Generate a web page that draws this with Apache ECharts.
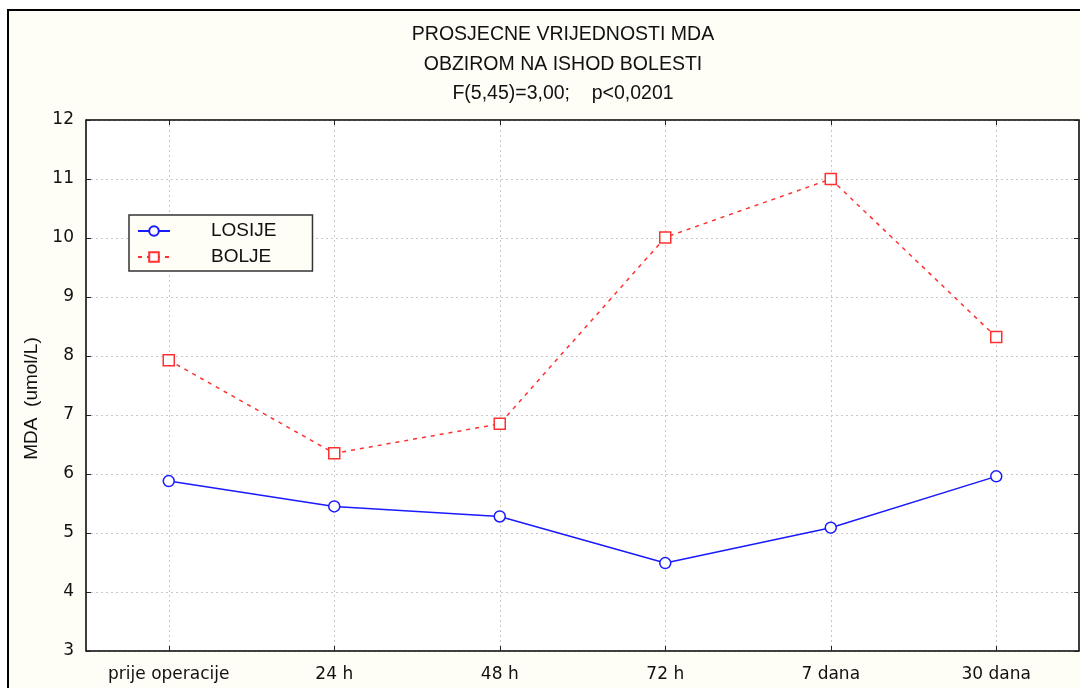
<!DOCTYPE html>
<html>
<head>
<meta charset="utf-8">
<script src="https://cdn.jsdelivr.net/npm/echarts@6/dist/echarts.min.js"></script>
<style>
  html, body { margin: 0; padding: 0; background: #ffffff; }
  #chart { width: 1080px; height: 688px; }
</style>
</head>
<body>
<div id="chart"></div>
<script>
// Measurement points
const categories = ['prije operacije', '24 h', '48 h', '72 h', '7 dana', '30 dana'];
// Mean MDA values per outcome group
const losije = [5.88, 5.45, 5.28, 4.49, 5.09, 5.96];
const bolje = [7.93, 6.35, 6.85, 10.01, 11.0, 8.32];
const seriesNames = ['LOSIJE', 'BOLJE'];
const titleLines = ['PROSJECNE VRIJEDNOSTI MDA', 'OBZIROM NA ISHOD BOLESTI', 'F(5,45)=3,00;    p<0,0201'];
const yName = 'MDA  (umol/L)';

const chart = echarts.init(document.getElementById('chart'), null, { renderer: 'canvas' });

const sans = 'Liberation Sans, Arial, sans-serif';
const wide = 'DejaVu Sans, Verdana, sans-serif';
const tickStyle = { show: true, inside: true, length: 5, lineStyle: { color: '#222', width: 1 } };
const gridLine = { show: true, lineStyle: { color: '#c8c8c8', type: [2, 3], width: 1 } };

function titleText(i, y) {
  return {
    type: 'text', z: 5,
    style: { x: 563, y: y, text: titleLines[i], font: '19.5px ' + sans, fill: '#111',
             align: 'center', verticalAlign: 'middle' }
  };
}

chart.setOption({
  animation: false,
  backgroundColor: '#ffffff',
  textStyle: { fontFamily: sans },
  graphic: [
    // page frame with cream fill
    { type: 'rect', z: -10, shape: { x: 8, y: 10, width: 1100, height: 700 },
      style: { fill: '#fffef6', stroke: '#000', lineWidth: 2 } },
    titleText(0, 35),
    titleText(1, 65),
    titleText(2, 94)
  ],
  grid: {
    left: 86, right: 1, top: 120, bottom: 37,
    show: true, backgroundColor: '#ffffff', borderColor: '#222', borderWidth: 1
  },
  legend: {
    data: seriesNames,
    orient: 'vertical',
    left: 129, top: 215,
    backgroundColor: '#fffef6',
    borderColor: '#333', borderWidth: 1.5, borderRadius: 0,
    padding: [5, 36, 3, 8],
    itemWidth: 32, itemHeight: 12, itemGap: 4,
    textStyle: { fontSize: 19, lineHeight: 22, color: '#111', fontFamily: sans, padding: [0, 0, 0, 36] }
  },
  xAxis: [
    {
      type: 'category', data: categories, position: 'bottom', boundaryGap: true,
      axisLine: { show: true, lineStyle: { color: '#222', width: 1.5 } },
      axisTick: Object.assign({ alignWithLabel: true }, tickStyle),
      axisLabel: { color: '#111', fontSize: 17, margin: 15, fontFamily: wide },
      splitLine: Object.assign({ alignWithLabel: true }, gridLine)
    },
    {
      type: 'category', data: categories, position: 'top', boundaryGap: true,
      axisLine: { show: true, lineStyle: { color: '#222', width: 1.5 } },
      axisTick: Object.assign({ alignWithLabel: true }, tickStyle),
      axisLabel: { show: false },
      splitLine: { show: false }
    }
  ],
  yAxis: [
    {
      type: 'value', min: 3, max: 12, interval: 1, position: 'left',
      name: yName, nameLocation: 'middle', nameGap: 44, nameRotate: 90,
      nameTextStyle: { fontSize: 19, color: '#111', fontFamily: sans, padding: [0, 26, 0, 0] },
      axisLine: { show: true, lineStyle: { color: '#222', width: 1.5 } },
      axisTick: tickStyle,
      axisLabel: { color: '#111', fontSize: 17, margin: 12, fontFamily: wide },
      splitLine: gridLine
    },
    {
      type: 'value', min: 3, max: 12, interval: 1, position: 'right',
      axisLine: { show: true, lineStyle: { color: '#222', width: 1.5 } },
      axisTick: tickStyle,
      axisLabel: { show: false },
      splitLine: { show: false }
    }
  ],
  series: [
    {
      name: seriesNames[0], type: 'line', data: losije,
      symbol: 'circle', symbolSize: 11, showAllSymbol: true,
      lineStyle: { color: '#1a1aff', width: 1.5 },
      itemStyle: { color: '#ffffff', borderColor: '#1a1aff', borderWidth: 1.5 },
      z: 3
    },
    {
      name: seriesNames[1], type: 'line', data: bolje,
      symbol: 'rect', symbolSize: 11, showAllSymbol: true,
      lineStyle: { color: '#ff3030', width: 1.5, type: [4, 5] },
      itemStyle: { color: '#ffffff', borderColor: '#ff3030', borderWidth: 1.5 },
      z: 3
    }
  ]
});
</script>
</body>
</html>
